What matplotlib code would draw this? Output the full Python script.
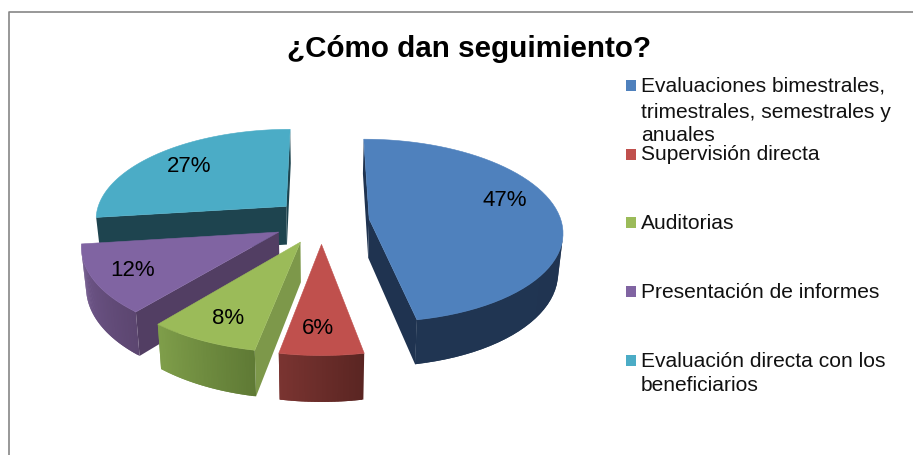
import numpy as np
import matplotlib
matplotlib.use("Agg")
import matplotlib.pyplot as plt
from matplotlib.patches import Polygon, Rectangle

plt.rcParams['font.family'] = ['Liberation Sans', 'DejaVu Sans']

title = "¿Cómo dan seguimiento?"
categories = [["Evaluaciones bimestrales,", "trimestrales, semestrales y", "anuales"],
              ["Supervisión directa"], ["Auditorias"], ["Presentación de informes"],
              ["Evaluación directa con los", "beneficiarios"]]
values = [47, 6, 8, 12, 27]
top_colors = ["#4f81bd", "#c0504d", "#9bbb59", "#8064a2", "#4bacc6"]
# colour of the cut faces, and of the rim going clockwise
cut_colors = ["#1f3350", "#5f2725", "#7d984a", "#523e63", "#1e444f"]
rim_from = ["#1f3350", "#5a2522", "#5f7a35", "#5c4670", "#2c6473"]
rim_to = ["#203552", "#7a3431", "#7f9e4a", "#735a90", "#2c6473"]
# pixel position of each % label
label_xy = [(505, 200), (318, 329), (228, 318), (133, 270), (189, 166)]
swatch_y = [80, 149, 217, 286, 355]
legend_base = [[92, 118, 141], [160], [229], [298], [367, 391]]

# projection of the pie, in pixels
x0, y0 = 321.5, 221
ax_x, ax_y = 192, 90.4
persp = 0.128
explode = 0.25
depth = 39
start = 0.0


def project(X, Y):
    s = 1 / (1 - persp * Y)
    return x0 + ax_x * X * s, y0 + ax_y * Y * s, s


def lower(p):
    x, y, s = p
    return x0 + (x - x0) * 0.98, y + depth * s


def wedge_points(t1, t2):
    mid = np.radians((t1 + t2) / 2)
    cx = explode * np.sin(mid)
    cy = -explode * np.cos(mid)
    ts = np.radians(np.linspace(t1, t2, 60))
    rim = [project(cx + np.sin(t), cy - np.cos(t)) for t in ts]
    apex = project(cx, cy)
    return apex, rim


def area(pts):
    pts = np.array(pts)
    x, y = pts[:, 0], pts[:, 1]
    return 0.5 * np.sum(x * np.roll(y, -1) - np.roll(x, -1) * y)


def draw_face(ax, a, b, color):
    # only the faces turned to the viewer get drawn
    quad = [a[:2], b[:2], lower(b), lower(a)]
    if area(quad) < 0:
        ax.add_patch(Polygon(quad, closed=True, facecolor=color, edgecolor="none"))


fig = plt.figure(figsize=(9.13, 4.55), dpi=100)
ax = fig.add_axes([0, 0, 1, 1])
ax.set_xlim(0, 913)
ax.set_ylim(455, 0)
ax.axis("off")

ax.plot([9, 9, 913], [455, 12, 12], color="#868686", lw=1.2)

ax.text(469.5, 57, title, fontsize=21.3, fontweight="bold", ha="center", va="baseline")

angles = start + np.concatenate([[0], np.cumsum(values)]) * 3.6
# back to front
for i in [4, 0, 3, 2, 1]:
    apex, rim = wedge_points(angles[i], angles[i + 1])
    draw_face(ax, apex, rim[0], cut_colors[i])
    draw_face(ax, rim[-1], apex, cut_colors[i])
    c1 = np.array(matplotlib.colors.to_rgb(rim_from[i]))
    c2 = np.array(matplotlib.colors.to_rgb(rim_to[i]))
    # each strip runs over the next one, so no seams show
    for j in range(len(rim) - 1):
        f = j / (len(rim) - 2)
        draw_face(ax, rim[j], rim[min(j + 2, len(rim) - 1)], tuple(c1 + (c2 - c1) * f))
    top = [apex[:2]] + [p[:2] for p in rim]
    ax.add_patch(Polygon(top, closed=True, facecolor=top_colors[i], edgecolor=top_colors[i], lw=0.4))

for v, (x, y) in zip(values, label_xy):
    ax.text(x, y, str(v) + "%", fontsize=16, ha="center", va="center", color="black")

for lines, bases, y, col in zip(categories, legend_base, swatch_y, top_colors):
    ax.add_patch(Rectangle((626, y), 10, 11, facecolor=col, edgecolor="none"))
    for line, b in zip(lines, bases):
        ax.text(641, b, line, fontsize=15.1, ha="left", va="baseline", color="#111111")

fig.savefig("out.png", dpi=100)
